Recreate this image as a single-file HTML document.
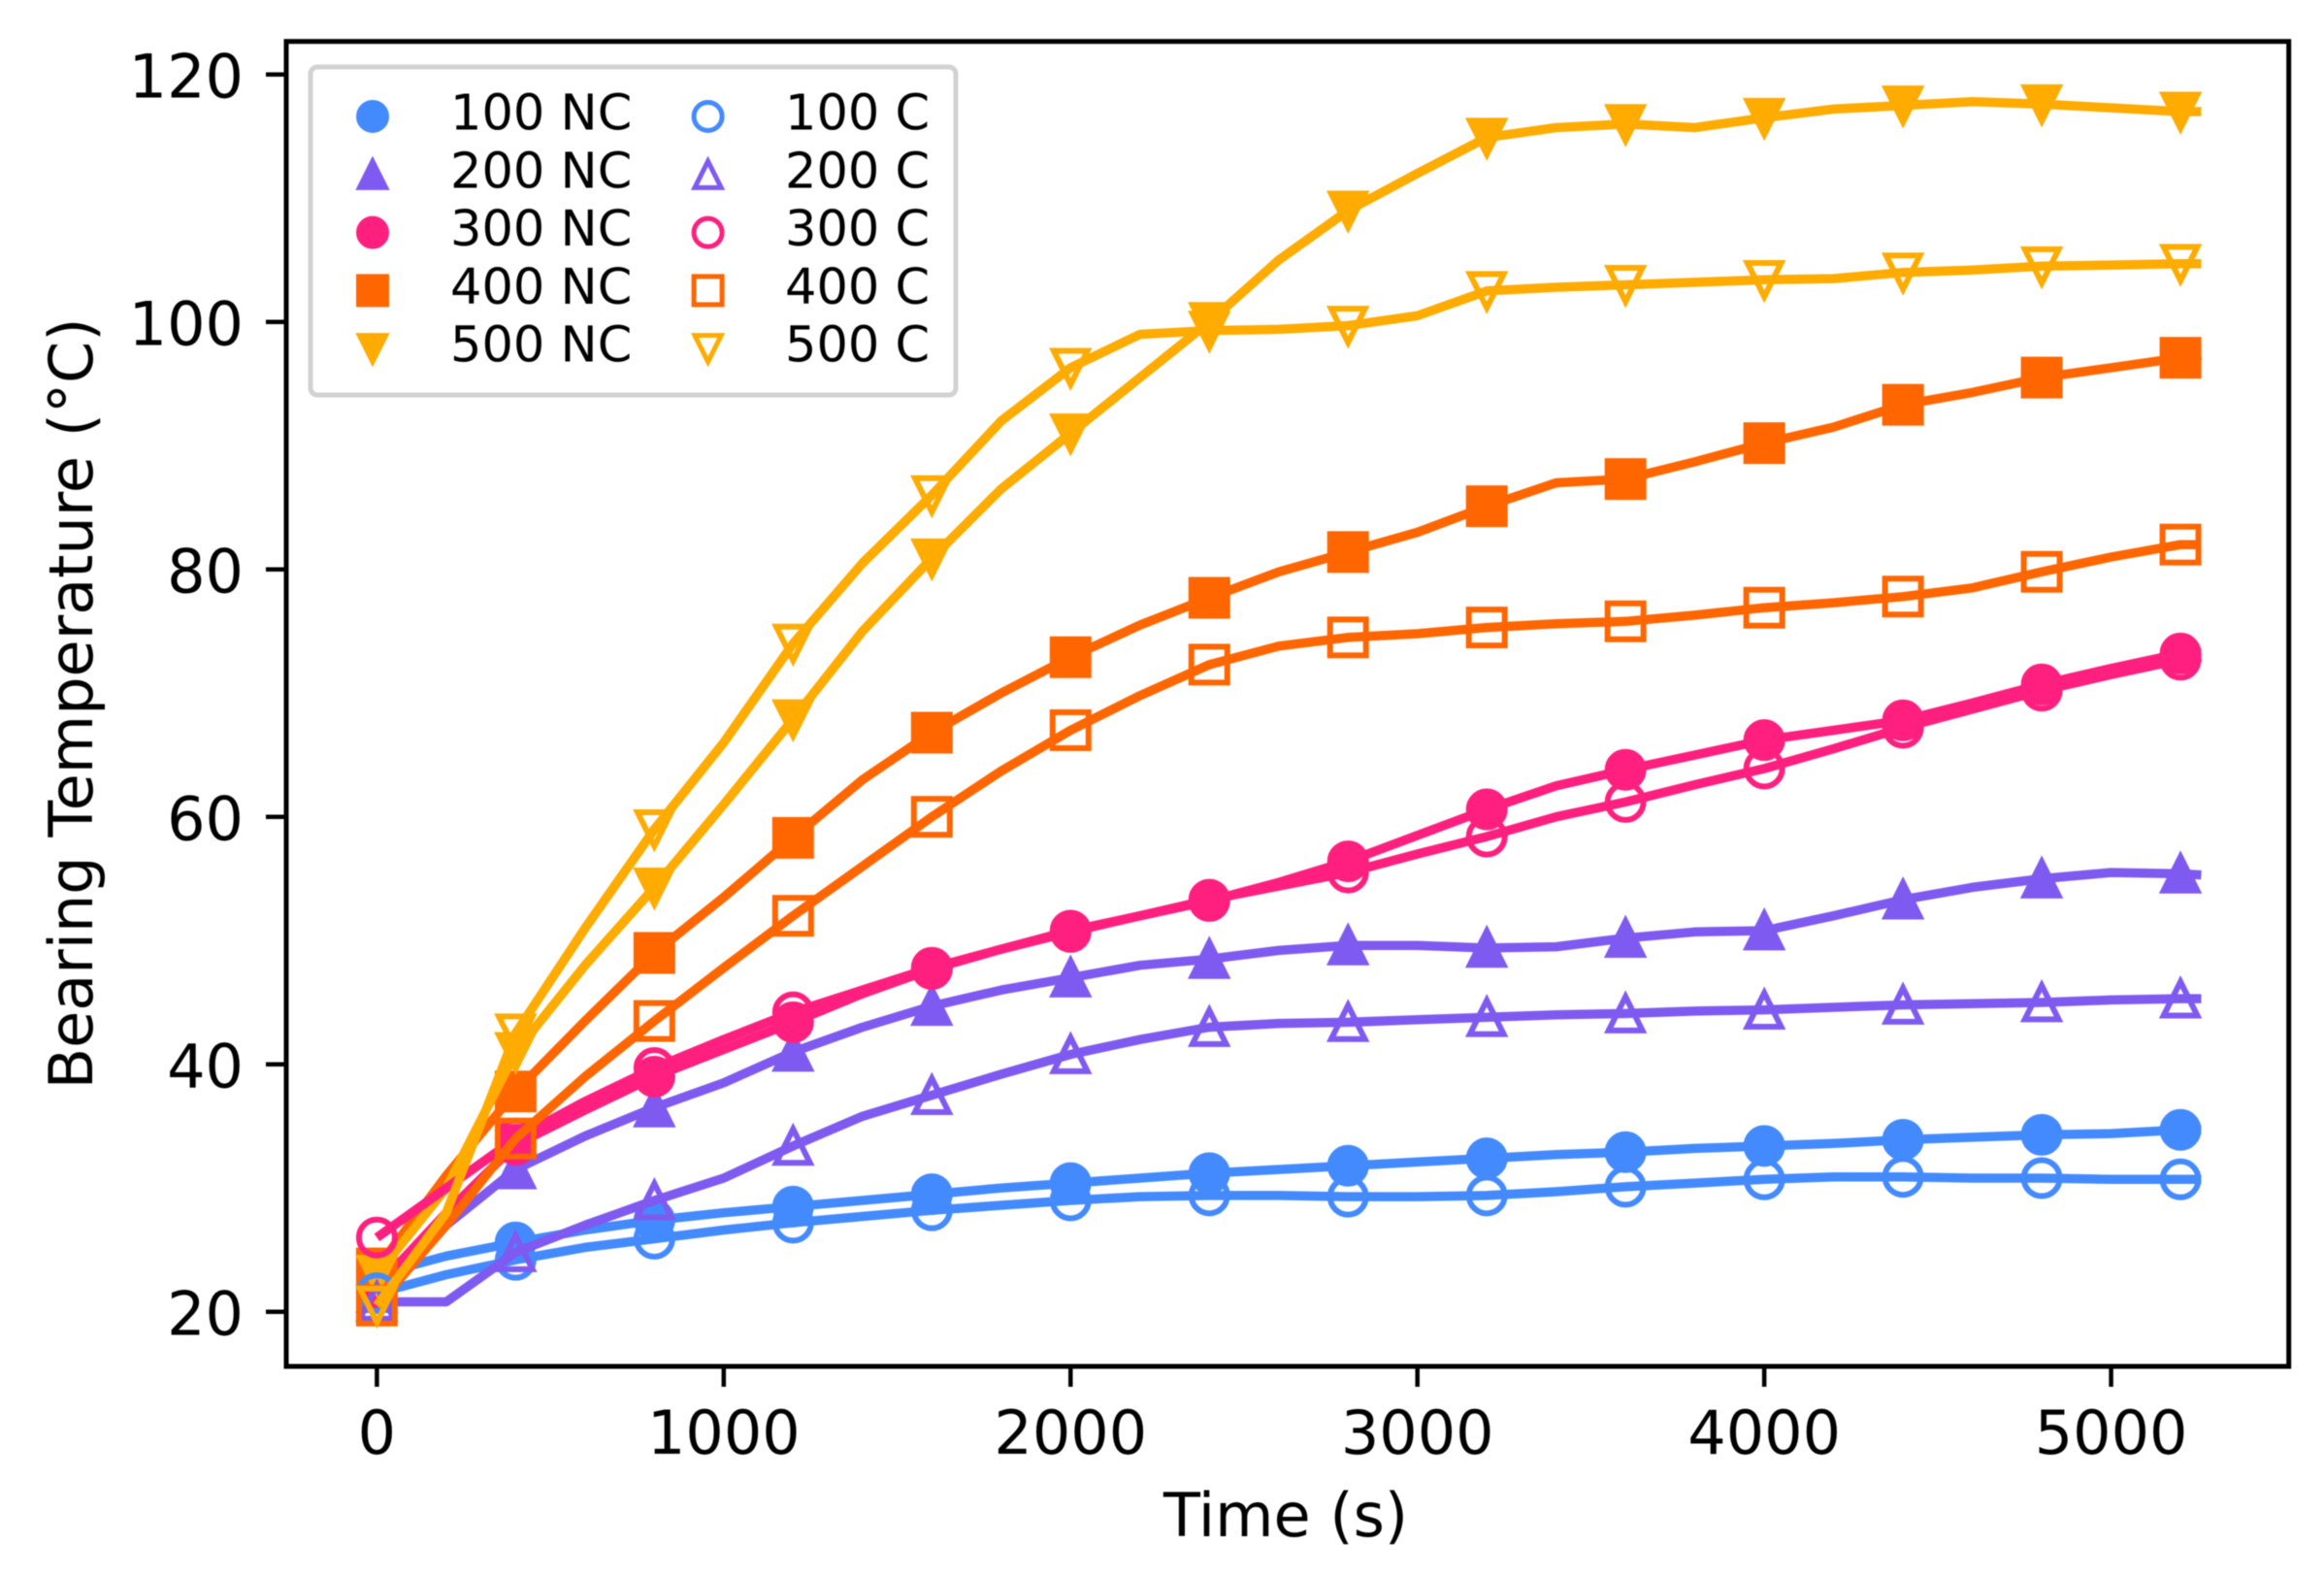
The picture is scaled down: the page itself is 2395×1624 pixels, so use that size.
<!DOCTYPE html>
<html lang="en">
<head>
<meta charset="utf-8">
<title>Bearing Temperature vs Time</title>
<style>
html,body{margin:0;padding:0;background:#fff;width:2395px;height:1624px;overflow:hidden}
svg{display:block;filter:blur(0.6px)}
text{font-family:"DejaVu Sans","Liberation Sans",sans-serif;fill:#000}
</style>
</head>
<body>
<svg id="chart" xmlns="http://www.w3.org/2000/svg" width="2395" height="1624" viewBox="0 0 2395 1624">
  <rect x="0" y="0" width="2395" height="1624" fill="#fff"/>
  <g id="series-layer"></g>
  <rect x="295" y="42.7" width="2063.7" height="1365.3" fill="none" stroke="#000" stroke-width="5"/>
  <g id="axis-layer"></g>
  <text x="1325" y="1583" font-size="62" text-anchor="middle">Time (s)</text>
  <text transform="translate(95,725) rotate(-90)" x="0" y="0" font-size="62" text-anchor="middle">Bearing Temperature (°C)</text>
  <g id="legend-layer">
    <rect x="320" y="69" width="665" height="338" rx="7" ry="7" fill="#fff" fill-opacity="0.85" stroke="#d2d2d2" stroke-width="5"/>
  </g>
</svg>
<script>
const xTickValues = [0, 1000, 2000, 3000, 4000, 5000];
const yTickValues = [20, 40, 60, 80, 100, 120];
const lineTimes = [0,200,400,600,800,1000,1200,1400,1600,1800,2000,2200,2400,2600,2800,3000,3200,3400,3600,3800,4000,4200,4400,4600,4800,5000,5200,5260];

const temp100NC = [23,24.5,25.6,26.6,27.4,28,28.5,29,29.5,30,30.4,30.8,31.2,31.5,31.8,32.1,32.4,32.7,32.9,33.2,33.4,33.6,33.9,34.1,34.3,34.4,34.7,34.7];
const temp200NC = [21.5,27,31.5,34.2,36.5,38.5,41,43,44.7,46,47,48,48.5,49.2,49.6,49.6,49.4,49.5,50.2,50.7,50.8,52,53.3,54.3,55,55.5,55.4,55.3];
const temp300NC = [22,28,33.5,36.3,39,41.2,43.4,45.7,47.7,49.3,50.7,52,53.2,54.7,56.4,58.5,60.6,62.5,63.8,65,66.2,67,67.8,69.2,70.7,72,73.2,73.3];
const temp400NC = [23.5,31,37.8,43.5,49,53.5,58.3,63,66.8,70,72.9,75.5,77.7,79.8,81.4,83,85.1,87,87.3,88.7,90.2,91.5,93.3,94.3,95.5,96.3,97.1,97.3];
const temp500NC = [23,30,41,48,54.3,61,67.9,75,80.9,86.5,91,95.5,100,105,109,112,114.9,115.7,116,115.7,116.5,117.2,117.5,117.8,117.6,117.3,117,117];
const temp100C = [21.5,23,24.2,25.2,25.9,26.6,27.2,27.7,28.2,28.6,29,29.3,29.4,29.4,29.3,29.3,29.4,29.7,30.1,30.4,30.7,30.9,30.9,30.8,30.8,30.7,30.7,30.7];
const temp200C = [20.8,20.8,24.8,27,29,30.8,33.4,35.8,37.5,39.2,40.8,42,43,43.3,43.4,43.6,43.8,44,44.1,44.3,44.4,44.6,44.8,44.9,45,45.2,45.3,45.3];
const temp300C = [26,30,34,37,39.7,42,44.2,46,47.8,49.3,50.8,52,53.3,54.4,55.5,57,58.4,60,61.2,62.6,63.9,65.5,67.2,68.7,70.2,71.5,72.7,72.9];
const temp400C = [20.5,27,34,39,43.5,47.8,52,56,60,63.7,67,69.8,72.3,73.8,74.5,74.8,75.3,75.6,75.8,76.3,76.9,77.3,77.8,78.5,79.8,81,82,82];
const temp500C = [20.5,28,42.5,51,59,66,74,80.5,86,92,96.3,99,99.3,99.4,99.7,100.5,102.5,102.8,103,103.2,103.4,103.5,104,104.2,104.5,104.6,104.7,104.7];

const seriesLabels = ["100 NC","200 NC","300 NC","400 NC","500 NC","100 C","200 C","300 C","400 C","500 C"];
const seriesValues = [temp100NC,temp200NC,temp300NC,temp400NC,temp500NC,temp100C,temp200C,temp300C,temp400C,temp500C];
const seriesColors = ["#448aff","#7f5af0","#ff1f7f","#ff6600","#ffab00","#448aff","#7f5af0","#ff1f7f","#ff6600","#ffab00"];
const seriesShapes = ["circle","triangle-up","circle","square","triangle-down","circle","triangle-up","circle","square","triangle-down"];
const seriesFilled = [true,true,true,true,true,false,false,false,false,false];

const SVG_NS = "http://www.w3.org/2000/svg";
const xScale = function (t) { return 388.4 + t * 0.35744; };
const yScale = function (v) { return 1351.7 - (v - 20) * 12.75; };

function makeMarker(shape, cx, cy, size, color, filled, strokeWidth) {
  let el;
  const triSize = size * 0.94;
  if (shape === "circle") {
    el = document.createElementNS(SVG_NS, "circle");
    el.setAttribute("cx", cx);
    el.setAttribute("cy", cy);
    el.setAttribute("r", size / 2);
  } else if (shape === "square") {
    el = document.createElementNS(SVG_NS, "rect");
    el.setAttribute("x", cx - size / 2);
    el.setAttribute("y", cy - size / 2);
    el.setAttribute("width", size);
    el.setAttribute("height", size);
  } else {
    el = document.createElementNS(SVG_NS, "polygon");
    const dir = shape === "triangle-up" ? -1 : 1;
    const h = triSize / 2;
    el.setAttribute("points", [
      [cx, cy + dir * h],
      [cx - h, cy - dir * h],
      [cx + h, cy - dir * h]
    ].map(function (p) { return p.join(","); }).join(" "));
  }
  el.setAttribute("fill", filled ? color : "none");
  el.setAttribute("stroke", color);
  el.setAttribute("stroke-width", strokeWidth);
  el.setAttribute("stroke-linejoin", "miter");
  return el;
}

const seriesLayer = document.getElementById("series-layer");
seriesLabels.forEach(function (label, i) {
  const slug = label.toLowerCase().replace(" ", "-");
  const group = document.createElementNS(SVG_NS, "g");
  
  
  const line = document.createElementNS(SVG_NS, "polyline");
  
  
  line.setAttribute("points", seriesValues[i].map(function (v, k) {
    return xScale(lineTimes[k]).toFixed(1) + "," + yScale(v).toFixed(1);
  }).join(" "));
  line.setAttribute("fill", "none");
  line.setAttribute("stroke", seriesColors[i]);
  line.setAttribute("stroke-width", "9.5");
  line.setAttribute("stroke-linejoin", "round");
  group.appendChild(line);
  lineTimes.forEach(function (t, k) {
    if (t % 400 !== 0) return;
    const m = makeMarker(seriesShapes[i], xScale(t), yScale(seriesValues[i][k]), 37, seriesColors[i], seriesFilled[i], 6);
    
    
    group.appendChild(m);
  });
  seriesLayer.appendChild(group);
});

const axisLayer = document.getElementById("axis-layer");
xTickValues.forEach(function (t) {
  const tick = document.createElementNS(SVG_NS, "line");
  
  
  tick.setAttribute("x1", xScale(t));
  tick.setAttribute("x2", xScale(t));
  tick.setAttribute("y1", 1408);
  tick.setAttribute("y2", 1429);
  tick.setAttribute("stroke", "#000");
  tick.setAttribute("stroke-width", "4.5");
  axisLayer.appendChild(tick);
  const txt = document.createElementNS(SVG_NS, "text");
  
  
  txt.setAttribute("x", xScale(t));
  txt.setAttribute("y", 1498);
  txt.setAttribute("font-size", "62");
  txt.setAttribute("text-anchor", "middle");
  txt.textContent = String(t);
  axisLayer.appendChild(txt);
});
yTickValues.forEach(function (v) {
  const tick = document.createElementNS(SVG_NS, "line");
  
  
  tick.setAttribute("x1", 274);
  tick.setAttribute("x2", 295);
  tick.setAttribute("y1", yScale(v));
  tick.setAttribute("y2", yScale(v));
  tick.setAttribute("stroke", "#000");
  tick.setAttribute("stroke-width", "4.5");
  axisLayer.appendChild(tick);
  const txt = document.createElementNS(SVG_NS, "text");
  
  
  txt.setAttribute("x", 251);
  txt.setAttribute("y", yScale(v) + 24);
  txt.setAttribute("font-size", "62");
  txt.setAttribute("text-anchor", "end");
  txt.textContent = String(v);
  axisLayer.appendChild(txt);
});

const legendLayer = document.getElementById("legend-layer");
seriesLabels.forEach(function (label, i) {
  const slug = label.toLowerCase().replace(" ", "-");
  const col = i < 5 ? 0 : 1;
  const row = i % 5;
  const entry = document.createElementNS(SVG_NS, "g");
  
  
  const mk = makeMarker(seriesShapes[i], col === 0 ? 384 : 729.6, 120 + row * 59.8, 29, seriesColors[i], seriesFilled[i], 5);
  
  
  entry.appendChild(mk);
  const txt = document.createElementNS(SVG_NS, "text");
  
  
  txt.setAttribute("x", col === 0 ? 464 : 809);
  txt.setAttribute("y", 133.5 + row * 59.8);
  txt.setAttribute("font-size", "51");
  txt.textContent = label;
  entry.appendChild(txt);
  legendLayer.appendChild(entry);
});
</script>
</body>
</html>
